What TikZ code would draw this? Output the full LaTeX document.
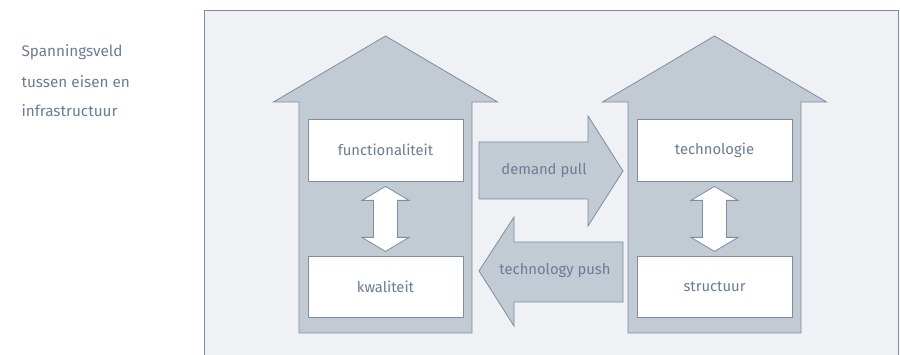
\documentclass[tikz,border=0pt]{standalone}
\usepackage{fontspec}
\setmainfont{Fira Sans}
\usepackage{tikz}
\usetikzlibrary{calc}

\definecolor{slate}{HTML}{6B7C96}
\definecolor{edge}{HTML}{7D8DA5}
\definecolor{panelbg}{HTML}{EFF1F5}
\definecolor{housefill}{HTML}{C2CAD4}

\tikzset{
  house/.style={draw=edge, fill=housefill, line width=0.8pt},
  innerbox/.style={draw=edge, fill=white, line width=0.8pt, minimum width=155pt, minimum height=62pt, text=slate, font=\fontsize{14.8}{17}\selectfont},
  dblarrow/.style={draw=edge, fill=white, line width=0.8pt, line join=miter},
  bigarrow/.style={draw=edge, fill=housefill, line width=0.8pt},
  label/.style={text=slate, font=\fontsize{14.8}{17}\selectfont},
  caption/.style={text=slate, anchor=west, font=\fontsize{15.3}{17}\selectfont}
}

\begin{document}
\begin{tikzpicture}[x=1pt, y=-1pt]
    \useasboundingbox (0,0) rectangle (900,355);

    % Side caption
    \node[caption] (cap1) at (18,52) {Spanningsveld};
    \node[caption] (cap2) at (18,82) {tussen eisen en};
    \node[caption] (cap3) at (18,111) {infrastructuur};

    % Panel
    \fill[panelbg] (204,10) rectangle (898,356);
    \draw[edge, line width=0.8pt] (204,356) -- (204,10) -- (898,10) -- (898,356);

    % Houses with two boxes each
    \foreach \cx/\a/\b/\ta/\tb in {385.5/func/kwal/functionaliteit/kwaliteit,714.5/tech/struc/technologie/structuur} {
        \draw[house] (\cx-86.5,333) -- (\cx-86.5,102) -- (\cx-112,102) -- (\cx,36)
            -- (\cx+112,102) -- (\cx+86.5,102) -- (\cx+86.5,333) -- cycle;
        \node[innerbox] (\a) at (\cx,150) {\ta};
        \node[innerbox, minimum height=61pt] (\b) at (\cx,286.5) {\tb};
        \draw[dblarrow] ($(\a.south)+(0,5)$) -- ++(23.5,14) -- ++(-11.5,0) -- ++(0,37)
            -- ++(11.5,0) -- ++(-23.5,14) -- ++(-23.5,-14) -- ++(11.5,0) -- ++(0,-37)
            -- ++(-11.5,0) -- cycle;
    }

    % demand pull
    \draw[bigarrow] (479,142) -- (588,142) -- (588,116) -- (623,171) -- (588,226)
        -- (588,199) -- (479,199) -- cycle;
    \node[label] (pull) at (544,171) {demand pull};

    % technology push
    \draw[bigarrow] (623,242) -- (514,242) -- (514,217) -- (479,271) -- (514,326)
        -- (514,302) -- (623,302) -- cycle;
    \node[label] (push) at (555,271) {technology push};
\end{tikzpicture}
\end{document}
